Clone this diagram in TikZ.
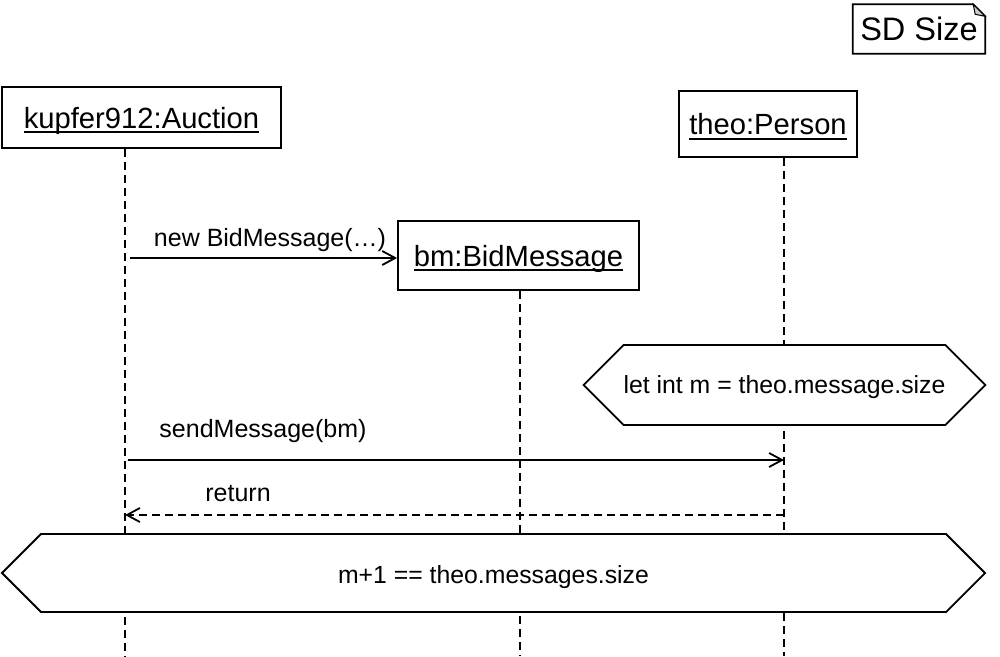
\documentclass[tikz,border=0pt]{standalone}
\usepackage{fontspec}
\setmainfont{Liberation Sans}
\usetikzlibrary{arrows.meta,shapes.symbols}
\newcommand{\objname}[1]{\leavevmode\setbox0\hbox{#1}\rlap{\vrule width\wd0 height -3pt depth 5pt}\box0}

\begin{document}
\begin{tikzpicture}[x=1pt,y=-1pt,
  obj/.style={draw,line width=1.8pt,inner sep=0pt,text depth=0pt,font=\fontsize{29.2}{34}\selectfont},
  life/.style={line width=1.8pt,dash pattern=on 8pt off 5pt},
  msg/.style={line width=1.8pt,-{Straight Barb[length=13pt,width=14pt,line width=1.8pt]}},
  reply/.style={msg,dash pattern=on 8pt off 5pt},
  lbl/.style={inner sep=0pt,font=\fontsize{25}{29}\selectfont},
  cond/.style={draw,line width=1.8pt,fill=white,shape=signal,signal to=west and east,
    signal pointer angle=90,inner sep=0pt,text depth=0pt,font=\fontsize{24.8}{29}\selectfont}]
\useasboundingbox (0,0) rectangle (1000,656);
% frame name
\node[inner sep=0pt,minimum width=132pt,minimum height=49pt,font=\fontsize{32.5}{36}\selectfont] (sd) at (919,29) {SD Size};
\draw[line width=1.8pt] (sd.south west) -- (sd.north west) -- ([xshift=-12pt]sd.north east)
  -- ([yshift=-12pt]sd.north east) -- (sd.south east) -- cycle;
\filldraw[fill=gray!40,line width=1pt] ([xshift=-12pt]sd.north east) -- ([xshift=-10pt,yshift=-10pt]sd.north east)
  -- ([yshift=-12pt]sd.north east) -- cycle;
% objects
\node[obj,minimum width=279pt,minimum height=61pt] (auction) at (141.5,117.5) {\objname{kupfer912:Auction}};
\node[obj,minimum width=178pt,minimum height=66pt] (theo) at (768,124) {\objname{theo:Person}};
\node[obj,minimum width=241pt,minimum height=69pt] (bm) at (518.5,255.5) {\objname{bm:BidMessage}};
% lifelines
\coordinate (aucEnd) at (125,656);
\coordinate (theoEnd) at (784,656);
\coordinate (bmEnd) at (520,656);
\draw[life] (auction.south -| aucEnd) -- (aucEnd);
\draw[life] (theo.south -| theoEnd) -- (theoEnd);
\draw[life] (bm.south -| bmEnd) -- (bmEnd);
% messages
\coordinate (newS) at (130,258);
\draw[msg] (newS) -- (newS -| bm.west);
\node[lbl] (newL) at (270,240) {new BidMessage(…)};
\coordinate (sendS) at (128,460);
\draw[msg] (sendS) -- (sendS -| theoEnd);
\node[lbl] (sendL) at (263,431) {sendMessage(bm)};
\coordinate (retS) at (784,515);
\draw[reply] (retS) -- (retS -| aucEnd);
\node[lbl] (retL) at (238,494) {return};
% state invariants
\node[cond,minimum width=401pt,minimum height=80pt] (letm) at (784.5,385) {let int m = theo.message.size};
\node[cond,text height=21pt,minimum width=983pt,minimum height=78pt] (check) at (493.5,573) {m+1 == theo.messages.size};
\end{tikzpicture}
\end{document}
